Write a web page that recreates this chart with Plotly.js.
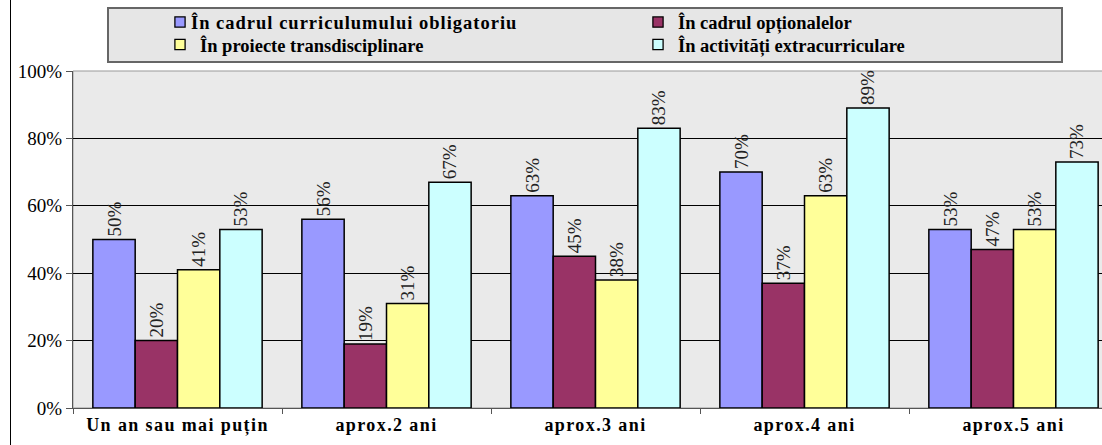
<!DOCTYPE html>
<html>
<head>
<meta charset="utf-8">
<script src="https://cdn.plot.ly/plotly-3.0.1.min.js"></script>
<style>
html,body{margin:0;padding:0;background:#fff;overflow:hidden;}
#frame{position:absolute;left:10px;top:0;width:1px;height:445px;background:#000;}
#chart{position:absolute;left:0;top:0;width:1120px;height:445px;}
.xtick text{letter-spacing:1.4px;}
.legendtext{letter-spacing:1px;}
#chart .legendtext{transform:translateX(-9px);}
</style>
</head>
<body>
<div id="chart"></div>
<div id="frame"></div>
<script>
const categories = ["Un an sau mai puțin", "aprox.2 ani", "aprox.3 ani", "aprox.4 ani", "aprox.5 ani"];
const seriesNames = ["În cadrul curriculumului obligatoriu", "În cadrul opționalelor", "În proiecte transdisciplinare", "În activități extracurriculare"];
const obligatoriu = [50, 56, 63, 70, 53];
const optionale = [20, 19, 45, 37, 47];
const transdisciplinare = [41, 31, 38, 63, 53];
const extracurriculare = [53, 67, 83, 89, 73];
const colors = ["#9999FF", "#993366", "#FFFF99", "#CCFFFF"];
const yTicks = [0, 20, 40, 60, 80, 100];

const serif = "Liberation Serif";
const allSeries = [obligatoriu, optionale, transdisciplinare, extracurriculare];
const legendIds = ["legend", "legend2", "legend3", "legend4"];
const traces = allSeries.map((vals, i) => ({
  type: "bar",
  name: seriesNames[i],
  legend: legendIds[i],
  x: categories,
  y: vals,
  marker: {color: colors[i], line: {color: "#000", width: 1.5}},
  text: vals.map(v => v + "%"),
  textposition: "outside",
  textangle: -90,
  cliponaxis: false,
  textfont: {family: serif, size: 19, color: "#222"},
  hoverinfo: "skip"
}));

// legend slot: [left px, row centre px]
function legendCfg(leftPx, rowPx) {
  return {
    orientation: "v",
    x: (leftPx - 73) / 1045, xanchor: "left",
    y: 1 + (71 - rowPx) / 337, yanchor: "middle",
    bgcolor: "rgba(0,0,0,0)",
    borderwidth: 0,
    font: {family: serif, size: 18.5, color: "#000", weight: "bold"},
    itemclick: false
  };
}

const layout = {
  width: 1120, height: 445,
  margin: {l: 73, r: 2, t: 71, b: 37},
  font: {family: serif, color: "#000"},
  paper_bgcolor: "#fff",
  plot_bgcolor: "#EAEAEA",
  barmode: "group",
  bargap: 0.19,
  bargroupgap: 0,
  showlegend: true,
  legend: legendCfg(160, 22.5),
  legend2: legendCfg(638, 22.5),
  legend3: legendCfg(160, 45),
  legend4: legendCfg(638, 45),
  xaxis: {
    type: "category",
    tickson: "boundaries",
    ticks: "outside", ticklen: 5, tickcolor: "#555",
    showline: true, linecolor: "#555", linewidth: 1,
    tickfont: {family: serif, size: 18, color: "#000", weight: "bold"},
    showgrid: false,
    fixedrange: true
  },
  yaxis: {
    range: [0, 100],
    tickvals: yTicks,
    ticktext: yTicks.map(v => v + "%"),
    ticks: "outside", ticklen: 6, tickcolor: "#555",
    showline: true, linecolor: "#555", linewidth: 1,
    gridcolor: "#000", gridwidth: 1,
    zeroline: false,
    tickfont: {family: serif, size: 19, color: "#000"},
    fixedrange: true
  },
  shapes: [
    {type: "rect", xref: "paper", yref: "paper", x0: 0, x1: 1, y0: 0, y1: 1,
     line: {color: "#999", width: 1}, layer: "below"},
    {type: "rect", xref: "paper", yref: "paper",
     x0: (108 - 73) / 1045, x1: (1062 - 73) / 1045,
     y0: 1 + (71 - 62) / 337, y1: 1 + (71 - 8) / 337,
     fillcolor: "#E6E6E6", line: {color: "#666", width: 2}, layer: "below"}
  ]
};

Plotly.newPlot("chart", traces, layout, {displayModeBar: false, staticPlot: true}).then(gd => {
  gd.querySelectorAll(".legendpoints path").forEach(p => {
    const t = p.getAttribute("transform") || "";
    p.setAttribute("transform", t + " scale(0.85)");
  });
  gd.querySelectorAll(".legend .scrollbox, .legend [clip-path]").forEach(el => el.removeAttribute("clip-path"));
});
</script>
</body>
</html>
